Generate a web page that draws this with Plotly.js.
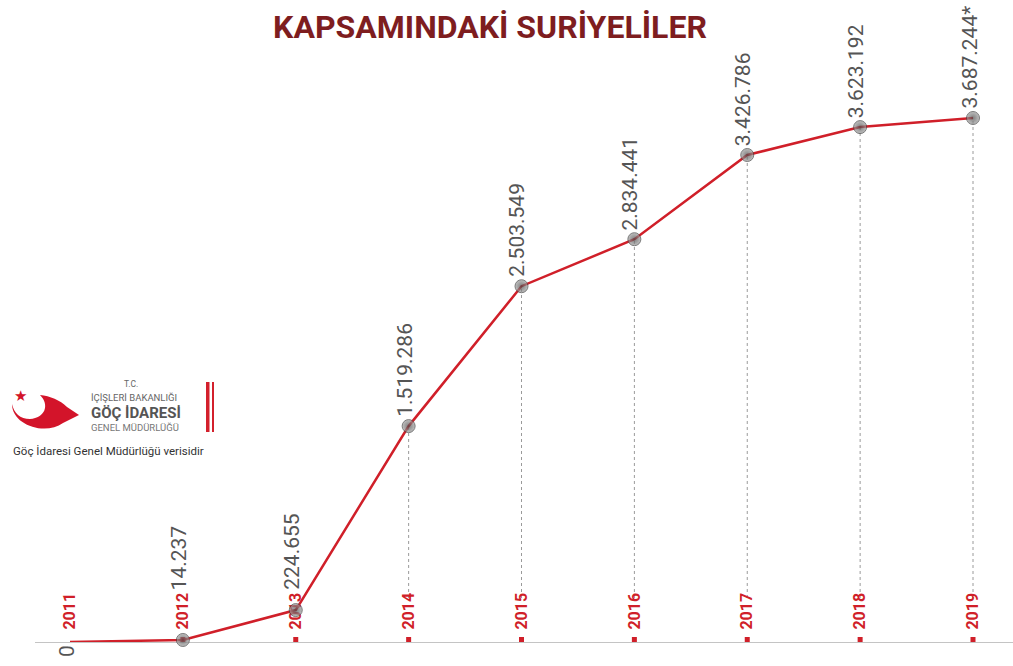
<!DOCTYPE html>
<html>
<head>
<meta charset="utf-8">
<script src="https://cdn.plot.ly/plotly-3.0.1.min.js"></script>
<style>html,body{margin:0;padding:0;background:#fff}#chart{width:1013px;height:666px}</style>
</head>
<body>
<div id="chart"></div>
<script>
// ---- data ----
const years = [2011, 2012, 2013, 2014, 2015, 2016, 2017, 2018, 2019];
const values = [0, 14237, 224655, 1519286, 2503549, 2834441, 3426786, 3623192, 3687244];
const valueLabels = ['0', '14.237', '224.655', '1.519.286', '2.503.549', '2.834.441', '3.426.786', '3.623.192', '3.687.244*'];
const yearLabels = ['2011', '2012', '2013', '2014', '2015', '2016', '2017', '2018', '2019'];
const titleText = 'KAPSAMINDAKİ SURİYELİLER';
const logoLines = ['T.C.', 'İÇİŞLERİ BAKANLIĞI', 'GÖÇ İDARESİ', 'GENEL MÜDÜRLÜĞÜ'];
const sourceText = 'Göç İdaresi Genel Müdürlüğü verisidir';

// ---- layout geometry ----
const W = 1013, H = 666;
const M = {l: 35, r: 0, t: 60, b: 24};
const PW = W - M.l - M.r, PH = H - M.t - M.b;
const px = x => (x - M.l) / PW;            // pixel -> paper x
const py = y => (H - M.b - y) / PH;        // pixel -> paper y

const RED = '#d01f29';
const GRAY_TXT = '#555555';
const FONT = 'Roboto, "DejaVu Sans", sans-serif';

const maxV = Math.max(...values);
const yTop = maxV * PH / 524;

const traces = [{
  x: years, y: values, type: 'scatter', mode: 'lines+markers',
  line: {color: RED, width: 2.5},
  marker: {
    size: values.map(v => v === 0 ? 0 : 13),
    color: '#a4a4a4',
    gradient: {type: 'radial', color: '#4a4a4a'},
    line: {color: '#454545', width: 1}
  },
  hoverinfo: 'skip', cliponaxis: false
}];

const shapes = [];
const annotations = [];
const YEAR_LABEL_ROOM = 50; // px kept free above the baseline for the year labels
const DOT_STOP = 44;        // dotted guide stops this many px above the baseline

years.forEach((yr, i) => {
  if (values[i] > 0) {
    const hPx = values[i] / yTop * PH;
    if (hPx > DOT_STOP) {
      shapes.push({type: 'line', xref: 'x', yref: 'y', x0: yr, x1: yr,
        ysizemode: 'pixel', yanchor: values[i], y0: -(hPx - DOT_STOP), y1: 0,
        line: {color: '#9a9a9a', width: 1, dash: 'dot'}, layer: 'below'});
    }
    // red square tick mark at the baseline
    shapes.push({type: 'rect', xref: 'x', yref: 'y', xsizemode: 'pixel', ysizemode: 'pixel',
      xanchor: yr, yanchor: 0, x0: -2.5, x1: 2.5, y0: 0, y1: 5,
      fillcolor: RED, line: {width: 0}, layer: 'below'});
    annotations.push({x: yr, y: values[i], xref: 'x', yref: 'y', text: valueLabels[i],
      showarrow: false, textangle: -90, xanchor: 'center', yanchor: 'bottom',
      yshift: Math.max(7, YEAR_LABEL_ROOM - hPx), xshift: -4,
      font: {family: FONT, size: 21, color: GRAY_TXT}});
  } else {
    annotations.push({x: yr, y: 0, xref: 'x', yref: 'y', text: valueLabels[i],
      showarrow: false, textangle: -90, xanchor: 'center', yanchor: 'top', yshift: -1, xshift: -3,
      font: {family: FONT, size: 21, color: GRAY_TXT}});
  }
});

// ---- logo ----
const pt = (x, y) => px(x).toFixed(5) + ',' + py(y).toFixed(5);
const crescent = 'M' + pt(12, 404) +
  ' C' + pt(12, 425) + ' ' + pt(45, 436) + ' ' + pt(63, 423) +
  ' L' + pt(79, 415) +
  ' L' + pt(67, 407) +
  ' C' + pt(60, 400) + ' ' + pt(50, 396) + ' ' + pt(40, 395) +
  ' C' + pt(50, 405) + ' ' + pt(45, 418) + ' ' + pt(30, 419) +
  ' C' + pt(20, 419) + ' ' + pt(14, 413) + ' ' + pt(12, 404) + ' Z';
shapes.push({type: 'path', xref: 'paper', yref: 'paper', path: crescent,
  fillcolor: '#d3142a', line: {width: 0}});
shapes.push({type: 'rect', xref: 'paper', yref: 'paper', x0: px(206), x1: px(209.5), y0: py(432), y1: py(382),
  fillcolor: '#d3202c', line: {width: 0}});
shapes.push({type: 'rect', xref: 'paper', yref: 'paper', x0: px(212), x1: px(214), y0: py(432), y1: py(382),
  fillcolor: '#d3202c', line: {width: 0}});
annotations.push({xref: 'paper', yref: 'paper', x: px(20), y: py(396), text: '★', showarrow: false,
  xanchor: 'center', yanchor: 'middle', font: {family: 'DejaVu Sans', size: 15, color: '#d3142a'}});
annotations.push({xref: 'paper', yref: 'paper', x: px(131), y: py(384), text: logoLines[0], showarrow: false,
  xanchor: 'center', yanchor: 'middle', font: {family: FONT, size: 8.5, color: '#666'}});
annotations.push({xref: 'paper', yref: 'paper', x: px(89), y: py(398), text: logoLines[1], showarrow: false,
  xanchor: 'left', yanchor: 'middle', font: {family: FONT, size: 9.5, color: '#666'}});
annotations.push({xref: 'paper', yref: 'paper', x: px(89), y: py(413), text: '<b>' + logoLines[2] + '</b>', showarrow: false,
  xanchor: 'left', yanchor: 'middle', font: {family: FONT, size: 15, color: '#555'}});
annotations.push({xref: 'paper', yref: 'paper', x: px(89), y: py(427), text: logoLines[3], showarrow: false,
  xanchor: 'left', yanchor: 'middle', font: {family: FONT, size: 9.5, color: '#777'}});
annotations.push({xref: 'paper', yref: 'paper', x: px(11), y: py(451), text: sourceText, showarrow: false,
  xanchor: 'left', yanchor: 'middle', font: {family: FONT, size: 11.5, color: '#333'}});

const layout = {
  width: W, height: H,
  margin: M,
  paper_bgcolor: '#ffffff', plot_bgcolor: '#ffffff',
  showlegend: false,
  title: {text: '<b>' + titleText + '</b>', x: 490 / W, xanchor: 'center', y: 1 - 27 / H, yanchor: 'middle',
    xref: 'container', yref: 'container',
    font: {family: FONT, size: 32, color: '#7e1d1f'}},
  xaxis: {range: [2011 - 35 / 112.875, 2019 + 40 / 112.875], showgrid: false, zeroline: false,
    tickmode: 'array', tickvals: years, ticktext: yearLabels.map(t => '<b>' + t + '</b>'),
    ticks: '', tickangle: -90, ticklabelposition: 'inside', ticklabelstandoff: 7,
    tickfont: {family: FONT, size: 16, color: RED},
    layer: 'below traces',
    showline: true, linecolor: '#c4c4c4', linewidth: 1, fixedrange: true},
  yaxis: {range: [0, yTop], showgrid: false, zeroline: false, showticklabels: false, ticks: '',
    showline: false, fixedrange: true},
  shapes: shapes,
  annotations: annotations
};

Plotly.newPlot('chart', traces, layout, {displayModeBar: false, staticPlot: true});
</script>
</body>
</html>
